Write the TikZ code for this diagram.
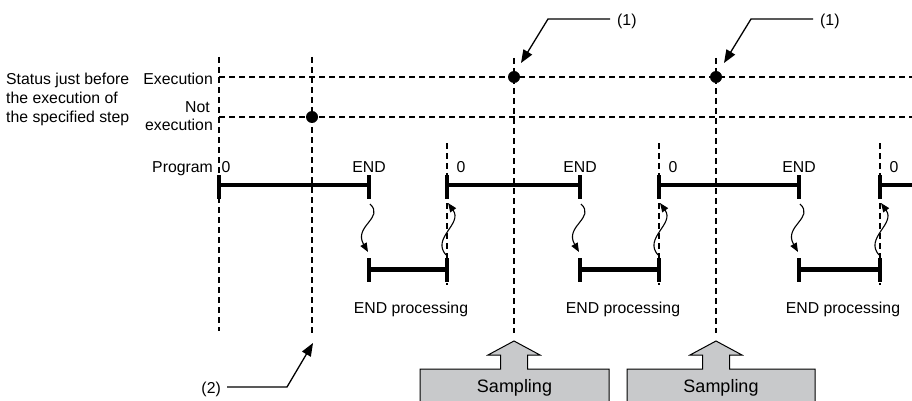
\documentclass[tikz,border=0pt]{standalone}
\usepackage{fontspec}
\setmainfont{Liberation Sans}
\usetikzlibrary{arrows.meta}
\definecolor{boxgray}{RGB}{200,201,203}
\begin{document}
\begin{tikzpicture}[x=1pt,y=-1pt,
  guide/.style={dash pattern=on 6pt off 4pt, line width=1.2pt},
  bar/.style={line width=4.5pt},
  tickmark/.style={line width=4.5pt},
  lbl/.style={font=\fontsize{15.8}{19}\selectfont, inner sep=0pt},
  biglbl/.style={font=\fontsize{18}{22}\selectfont, inner sep=0pt},
  callout/.style={line width=1.3pt, -{Triangle[length=13pt,width=10pt]}},
  wave/.style={line width=1.1pt, -{Triangle[length=9pt,width=7pt]}},
  dot/.style={circle, fill=black, inner sep=0pt, minimum size=12pt},
  sampbox/.style={draw=black, fill=boxgray, line width=1pt}
]
\clip (0,0) rectangle (912,401);
\fill[white] (0,0) rectangle (912,401);

% left labels
\node[lbl, anchor=base west] (s1) at (6,85) {Status just before};
\node[lbl, anchor=base west] (s2) at (6,104) {the execution of};
\node[lbl, anchor=base west] (s3) at (6,123) {the specified step};
\node[lbl, anchor=base east] (ex) at (213,85) {Execution};
\node[lbl, anchor=base east] (no) at (210,113) {Not};
\node[lbl, anchor=base east] (ne) at (213,131) {execution};
\node[lbl, anchor=base east] (pg) at (213,172) {Program};

% horizontal guide lines
\coordinate (h1a) at (219,77);  \coordinate (h1b) at (912,77);
\coordinate (h2a) at (219,117); \coordinate (h2b) at (912,117);
\draw[guide] (h1a) -- (h1b);
\draw[guide] (h2a) -- (h2b);

% long vertical guides
\coordinate (v0a) at (219,57);  \coordinate (v0b) at (219,331);
\coordinate (v1a) at (312,57);  \coordinate (v1b) at (312,333);
\coordinate (v2a) at (514,58);  \coordinate (v2b) at (514,333);
\coordinate (v3a) at (716,58);  \coordinate (v3b) at (716,333);
\draw[guide] (v0a) -- (v0b);
\draw[guide] (v1a) -- (v1b);
\draw[guide] (v2a) -- (v2b);
\draw[guide] (v3a) -- (v3b);

% restart guides
\foreach \x/\n in {447/a,659/b,880/c}{
  \coordinate (r\n1) at (\x,143);
  \coordinate (r\n2) at (\x,285);
  \draw[guide] (r\n1) -- (r\n2);
}

% dots
\node[dot] (d1) at (312,117) {};
\node[dot] (d2) at (514,77) {};
\node[dot] (d3) at (716,77) {};

% program bars
\foreach \a/\b/\n in {219/369/a,447/580/b,659/799/c}{
  \coordinate (pb\n1) at (\a,185);
  \coordinate (pb\n2) at (\b,185);
  \draw[bar] (pb\n1) -- (pb\n2);
  \draw[tickmark] (\a,175) -- (\a,199);
  \draw[tickmark] (\b,175) -- (\b,199);
}
\coordinate (pbd1) at (880,185);
\coordinate (pbd2) at (915,185);
\draw[bar] (pbd1) -- (pbd2);
\draw[tickmark] (880,175) -- (880,199);

% END processing bars
\foreach \a/\b/\n in {369/447/a,580/659/b,799/880/c}{
  \coordinate (eb\n1) at (\a,269.5);
  \coordinate (eb\n2) at (\b,269.5);
  \draw[bar] (eb\n1) -- (eb\n2);
  \draw[tickmark] (\a,258) -- (\a,282);
  \draw[tickmark] (\b,258) -- (\b,282);
  % wavy arrows
  \coordinate (wd\n1) at (\a+1,204);
  \coordinate (wd\n2) at (\a-1,252);
  \draw[wave] (wd\n1) .. controls (\a+16,218) and (\a-16,226) .. (wd\n2);
  \coordinate (wu\n1) at (\b-1,255);
  \coordinate (wu\n2) at (\b+1,203);
  \draw[wave] (wu\n1) .. controls (\b-16,238) and (\b+16,224) .. (wu\n2);
}

% program labels
\node[lbl, anchor=base] (z0) at (226,172) {0};
\node[lbl, anchor=base] (n0) at (369,172) {END};
\node[lbl, anchor=base] (z1) at (461,172) {0};
\node[lbl, anchor=base] (n1) at (580,172) {END};
\node[lbl, anchor=base] (z2) at (673,172) {0};
\node[lbl, anchor=base] (n2) at (799,172) {END};
\node[lbl, anchor=base] (z3) at (894,172) {0};

\node[lbl, anchor=base] (ep1) at (411,313) {END processing};
\node[lbl, anchor=base] (ep2) at (623,313) {END processing};
\node[lbl, anchor=base] (ep3) at (843,313) {END processing};

% callouts (1)
\node[lbl, anchor=base west] (c1) at (617,26) {(1)};
\coordinate (c1s) at (610,19); \coordinate (c1k) at (548,19); \coordinate (c1t) at (521,63);
\draw[callout] (c1s) -- (c1k) -- (c1t);
\node[lbl, anchor=base west] (c2) at (820,26) {(1)};
\coordinate (c2s) at (813,19); \coordinate (c2k) at (751,19); \coordinate (c2t) at (724,63);
\draw[callout] (c2s) -- (c2k) -- (c2t);
% callout (2)
\node[lbl, anchor=base east] (c3) at (221,393) {(2)};
\coordinate (c3s) at (227,387); \coordinate (c3k) at (287,387); \coordinate (c3t) at (313,343);
\draw[callout] (c3s) -- (c3k) -- (c3t);

% sampling boxes
\foreach \l/\c/\r/\n in {420/514/609/a,627/716/815/b}{
  \draw[sampbox] (\l,410) -- (\l,369) -- (\c-13.5,369) -- (\c-13.5,355) -- (\c-26,355)
     -- (\c,341) -- (\c+26,355) -- (\c+13.5,355) -- (\c+13.5,369) -- (\r,369) -- (\r,410);
}
\node[biglbl, anchor=base] (sa) at (514.5,392) {Sampling};
\node[biglbl, anchor=base] (sb) at (721,392) {Sampling};
\end{tikzpicture}
\end{document}
